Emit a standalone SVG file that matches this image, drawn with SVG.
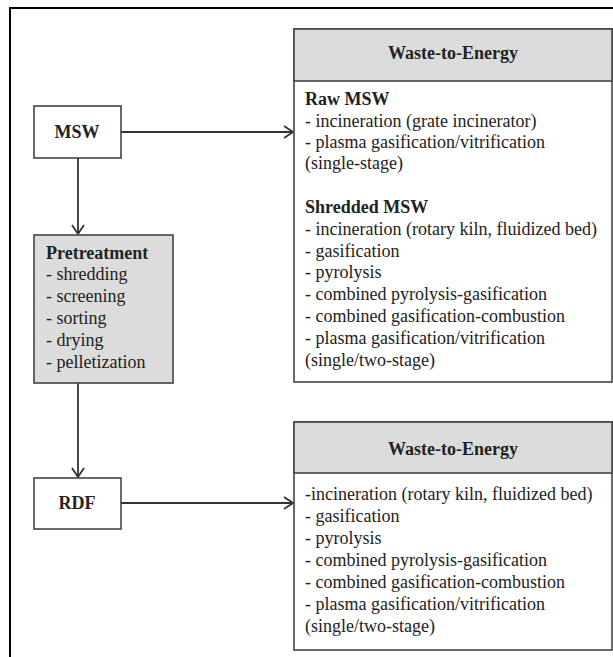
<svg xmlns="http://www.w3.org/2000/svg" width="613" height="657" viewBox="0 0 613 657">
<defs>
<style>
.frame{fill:none;stroke:#000;stroke-width:2}
.box{fill:#fff;stroke:#444;stroke-width:1.6}
.grey{fill:#dcdcdc;stroke:#444;stroke-width:1.6}
.t{font-family:"Liberation Serif","Times New Roman",serif;font-size:18px;fill:#222}
.b{font-weight:bold}
.c{text-anchor:middle}
.conn{fill:none;stroke:#333;stroke-width:1.8}
</style>
<marker id="arr" markerUnits="userSpaceOnUse" markerWidth="12" markerHeight="14" refX="10" refY="7" orient="auto">
<path d="M1,1 L10,7 L1,13" fill="none" stroke="#333" stroke-width="1.8"/>
</marker>
</defs>
<rect width="613" height="657" fill="#fff"/>
<path class="frame" d="M10,658 L10,8 L614,8"/>
<g id="connectors">
<line class="conn" x1="121" y1="132" x2="293" y2="132" marker-end="url(#arr)"/>
<line class="conn" x1="78" y1="158" x2="78" y2="234" marker-end="url(#arr)"/>
<line class="conn" x1="78" y1="383" x2="78" y2="477" marker-end="url(#arr)"/>
<line class="conn" x1="121" y1="503" x2="293" y2="503" marker-end="url(#arr)"/>
</g>
<g id="msw">
<rect class="box" x="34" y="106" width="87" height="52"/>
<text class="t b c" x="77" y="138">MSW</text>
</g>
<g id="pretreatment">
<rect class="grey" x="34" y="235" width="139" height="148"/>
<text class="t b" x="46" y="259">Pretreatment</text>
<text class="t" x="46" y="280">- shredding</text>
<text class="t" x="46" y="302">- screening</text>
<text class="t" x="46" y="324">- sorting</text>
<text class="t" x="46" y="346">- drying</text>
<text class="t" x="46" y="368">- pelletization</text>
</g>
<g id="rdf">
<rect class="box" x="34" y="478" width="87" height="51"/>
<text class="t b c" x="77" y="509">RDF</text>
</g>
<g id="wte-top">
<rect class="box" x="294" y="29" width="318" height="353"/>
<rect class="grey" x="294" y="29" width="318" height="52"/>
<text class="t b c" x="453" y="59">Waste-to-Energy</text>
<text class="t b" x="305" y="105">Raw MSW</text>
<text class="t" x="305" y="127">- incineration (grate incinerator)</text>
<text class="t" x="305" y="148">- plasma gasification/vitrification</text>
<text class="t" x="305" y="169">(single-stage)</text>
<text class="t b" x="305" y="213">Shredded MSW</text>
<text class="t" x="305" y="235">- incineration (rotary kiln, fluidized bed)</text>
<text class="t" x="305" y="257">- gasification</text>
<text class="t" x="305" y="278">- pyrolysis</text>
<text class="t" x="305" y="300">- combined pyrolysis-gasification</text>
<text class="t" x="305" y="322">- combined gasification-combustion</text>
<text class="t" x="305" y="344">- plasma gasification/vitrification</text>
<text class="t" x="305" y="366">(single/two-stage)</text>
</g>
<g id="wte-bottom">
<rect class="box" x="294" y="422" width="318" height="228"/>
<rect class="grey" x="294" y="422" width="318" height="51"/>
<text class="t b c" x="453" y="455">Waste-to-Energy</text>
<text class="t" x="305" y="500">-incineration (rotary kiln, fluidized bed)</text>
<text class="t" x="305" y="522">- gasification</text>
<text class="t" x="305" y="544">- pyrolysis</text>
<text class="t" x="305" y="566">- combined pyrolysis-gasification</text>
<text class="t" x="305" y="588">- combined gasification-combustion</text>
<text class="t" x="305" y="610">- plasma gasification/vitrification</text>
<text class="t" x="305" y="632">(single/two-stage)</text>
</g>
</svg>
